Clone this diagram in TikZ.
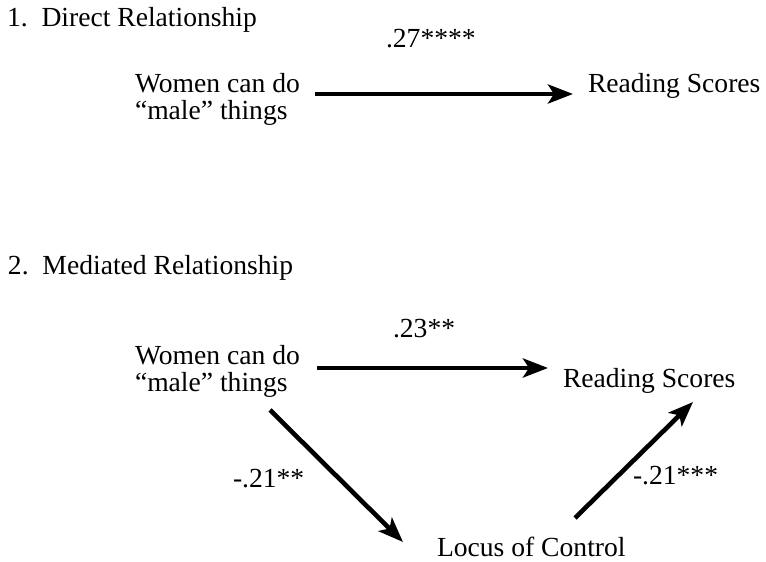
\documentclass[tikz,border=0pt]{standalone}
\usepackage{fontspec}
\setmainfont{Liberation Serif}
\usetikzlibrary{arrows.meta}
\begin{document}
\begin{tikzpicture}[x=1pt,y=1pt,
  lbl/.style={anchor=base west,inner sep=0pt,outer sep=0pt,font=\fontsize{27.6pt}{27pt}\selectfont,align=left},
  conn/.style={line width=4.6pt,-{Stealth[length=25pt,width=19pt,inset=6pt]}}]
\useasboundingbox (0,0) rectangle (766,562);
% Part 1
\node[lbl] (t1) at (7,535) {1.\hspace{0.5em}Direct Relationship};
\node[lbl] (l27) at (386,514) {.27****};
\node[lbl] (w1) at (135,442) {Women can do\\“male” things};
\node[lbl] (r1) at (588,469) {Reading Scores};
\coordinate (a1s) at (315,468);
\coordinate (a1e) at (573,468);
\draw[conn] (a1s) -- (a1e);
% Part 2
\node[lbl] (t2) at (8,287) {2.\hspace{0.5em}Mediated Relationship};
\node[lbl] (l23) at (393,224) {.23**};
\node[lbl] (w2) at (135,170) {Women can do\\“male” things};
\node[lbl] (r2) at (563,174) {Reading Scores};
\node[lbl] (lc) at (437,5) {Locus of Control};
\node[lbl] (l21a) at (233,74) {-.21**};
\node[lbl] (l21b) at (633,77) {-.21***};
\coordinate (a2s) at (317,194);
\coordinate (a2e) at (548,194);
\coordinate (a3s) at (270,152);
\coordinate (a3e) at (403,20);
\coordinate (a4s) at (575,44);
\coordinate (a4e) at (693,160);
\draw[conn] (a2s) -- (a2e);
\draw[conn] (a3s) -- (a3e);
\draw[conn] (a4s) -- (a4e);
\end{tikzpicture}
\end{document}
